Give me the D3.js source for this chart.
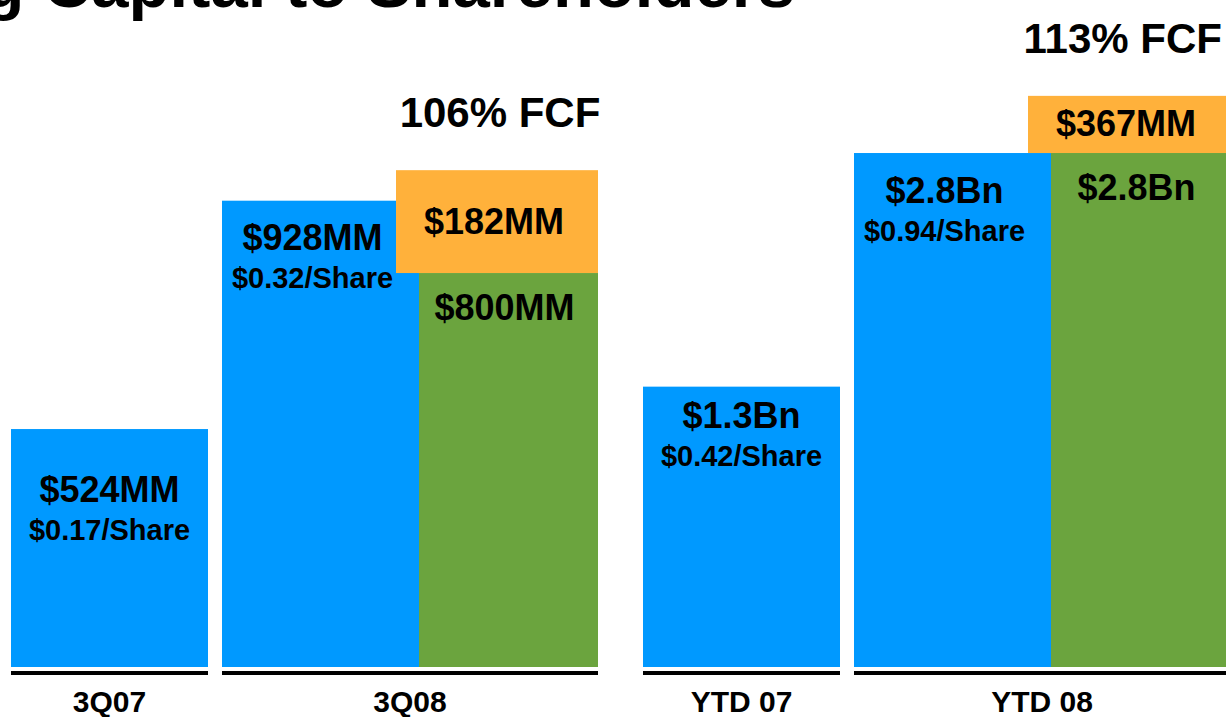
<!DOCTYPE html>
<html>
<head>
<meta charset="utf-8">
<script src="https://cdn.jsdelivr.net/npm/d3@7"></script>
<style>
    body { margin: 0; background: #fff; overflow: hidden; }
    svg { display: block; font-family: "Liberation Sans", Arial, sans-serif; font-weight: bold; }
</style>
</head>
<body>
<svg id="chart" width="1226" height="717"></svg>
<script>
// Chart data ($MM)
const categories = ["3Q07", "3Q08", "YTD 07", "YTD 08"];
const periodGroups = ["quarter", "quarter", "ytd", "ytd"];
const dividendValues = [524, 928, 1300, 2800];
const dividendLabels = ["$524MM", "$928MM", "$1.3Bn", "$2.8Bn"];
const perShareLabels = ["$0.17/Share", "$0.32/Share", "$0.42/Share", "$0.94/Share"];
const buybackValues = [null, 800, null, 2800];
const buybackLabels = [null, "$800MM", null, "$2.8Bn"];
const extraValues = [null, 182, null, 367];
const extraLabels = [null, "$182MM", null, "$367MM"];
const fcfLabels = [null, "106% FCF", null, "113% FCF"];

const colors = {blue: "#0099ff", green: "#6ba43e", orange: "#ffb13b"};

const width = 1226;
const baseY = 667;
const blueW = 197, greenW = 179, pairGap = 14, overhang = 23;

// Vertical offset of the dividend label under the bar top, per bar
const blueLabelDy = [73, 49, 41, 50];

const svg = d3.select("#chart");

// Title (cut off by the frame like on the slide)
svg.append("text")
    .attr("x", 795)
    .attr("y", 7)
    .attr("text-anchor", "end")
    .attr("font-size", 67)
    .text("Returning Capital to Shareholders");

// The slide is not drawn to one scale: each period group has its own
const yScales = {
    quarter: d3.scaleLinear().domain([103, 1000]).range([baseY, 160]),
    ytd: d3.scaleLinear().domain([-500, 3500]).range([baseY, 44])
};

const groupX = d3.scaleBand()
    .domain(["quarter", "ytd"])
    .range([11, 1230])
    .paddingInner(0.0712);

const rows = categories.map((c, i) => {
    const g = periodGroups[i];
    const isCurrent = i % 2 === 1;
    const left = groupX(g) + (isCurrent ? blueW + pairGap : 0);
    return {
        cat: c,
        y: yScales[g],
        left: left,
        dividend: dividendValues[i],
        divLabel: dividendLabels[i],
        shareLabel: perShareLabels[i],
        buyback: buybackValues[i],
        buyLabel: buybackLabels[i],
        extra: extraValues[i],
        extraLabel: extraLabels[i],
        fcf: fcfLabels[i],
        labelDy: blueLabelDy[i],
        right: left + blueW + (buybackValues[i] != null ? greenW : 0)
    };
});

const bars = svg.append("g");

// Blue bars: dividends
bars.selectAll(".div").data(rows).join("rect")
    .attr("class", "div")
    .attr("x", d => d.left)
    .attr("y", d => d.y(d.dividend))
    .attr("width", blueW)
    .attr("height", d => baseY - d.y(d.dividend))
    .attr("fill", colors.blue);

const stacked = rows.filter(d => d.buyback != null);

// Orange block sits on top of the green one and overhangs the blue bar
bars.selectAll(".extra").data(stacked).join("rect")
    .attr("class", "extra")
    .attr("x", d => d.left + blueW - overhang)
    .attr("y", d => d.y(d.buyback + d.extra))
    .attr("width", greenW + overhang)
    .attr("height", d => d.y(d.buyback) - d.y(d.buyback + d.extra))
    .attr("fill", colors.orange);

bars.selectAll(".buy").data(stacked).join("rect")
    .attr("class", "buy")
    .attr("x", d => d.left + blueW)
    .attr("y", d => d.y(d.buyback))
    .attr("width", greenW)
    .attr("height", d => baseY - d.y(d.buyback))
    .attr("fill", colors.green);

// Labels inside the bars
const labels = svg.append("g").attr("text-anchor", "middle").attr("fill", "#000");

labels.selectAll(".divLabel").data(rows).join("text")
    .attr("x", d => d.left + blueW / 2 - (d.buyback != null ? 8 : 0))
    .attr("y", d => d.y(d.dividend) + d.labelDy)
    .attr("font-size", 36)
    .text(d => d.divLabel);

labels.selectAll(".shareLabel").data(rows).join("text")
    .attr("x", d => d.left + blueW / 2 - (d.buyback != null ? 8 : 0))
    .attr("y", d => d.y(d.dividend) + d.labelDy + 38)
    .attr("font-size", 29)
    .text(d => d.shareLabel);

labels.selectAll(".buyLabel").data(stacked).join("text")
    .attr("x", d => d.left + blueW + greenW / 2 - 4)
    .attr("y", d => d.y(d.buyback) + 47)
    .attr("font-size", 36)
    .text(d => d.buyLabel);

labels.selectAll(".extraLabel").data(stacked).join("text")
    .attr("x", d => d.left + blueW - overhang + (greenW + overhang) / 2 - 3)
    .attr("y", d => (d.y(d.buyback) + d.y(d.buyback + d.extra)) / 2 + 12)
    .attr("font-size", 36)
    .text(d => d.extraLabel);

// FCF share above the stack, kept inside the frame
labels.selectAll(".fcf").data(stacked).join("text")
    .attr("y", d => d.y(d.buyback + d.extra) - 43)
    .attr("font-size", 42)
    .text(d => d.fcf)
    .attr("x", function (d) {
        const half = this.getComputedTextLength() / 2;
        const cx = d.left + blueW - overhang + (greenW + overhang) / 2 + 3;
        return Math.min(cx, width - half - 4);
    });

// Baseline segments and category names
svg.append("g").selectAll("line").data(rows).join("line")
    .attr("x1", d => d.left)
    .attr("x2", d => d.right)
    .attr("y1", baseY + 6)
    .attr("y2", baseY + 6)
    .attr("stroke", "#000")
    .attr("stroke-width", 4);

svg.append("g").attr("text-anchor", "middle")
    .selectAll("text").data(rows).join("text")
    .attr("x", d => (d.left + d.right) / 2)
    .attr("y", 712)
    .attr("font-size", 30)
    .text(d => d.cat);
</script>
</body>
</html>
